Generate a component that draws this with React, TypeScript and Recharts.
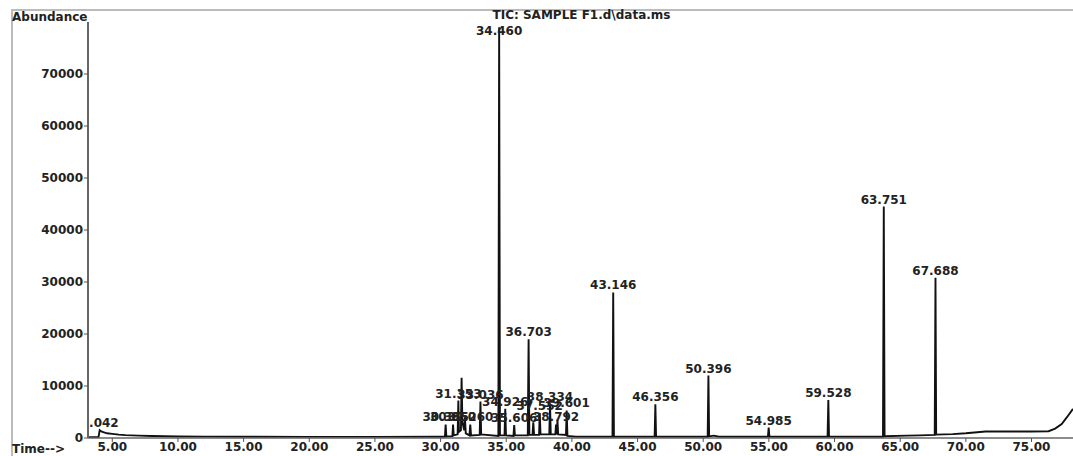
import React from "react";
import { LineChart, Line, XAxis, YAxis, LabelList } from "recharts";

// Retention time (min) of each trace point
const TIMES = [
  3.15, 3.95, 4.042, 4.2, 4.6, 5.0, 5.5, 6.0, 7.0, 8.0, 9.0, 10.0, 12.0, 15.0, 20.0, 25.0, 29.5,
  30.0, 30.33, 30.385, 30.44, 30.9, 30.95, 31.0, 31.3, 31.353, 31.4, 31.55, 31.6, 31.66, 31.8,
  31.85, 31.92, 32.2, 32.26, 32.32, 32.98, 33.036, 33.09, 34.4, 34.46, 34.52, 34.87, 34.926,
  34.98, 35.55, 35.606, 35.66, 36.64, 36.703, 36.76, 37.0, 37.06, 37.12, 37.5, 37.552, 37.61,
  38.28, 38.334, 38.39, 38.74, 38.792, 38.85, 38.9, 38.95, 39.55, 39.601, 39.66, 40.3,
  43.09, 43.146, 43.2, 46.3, 46.356, 46.41, 50.34, 50.396, 50.45, 50.8, 51.2, 54.93, 54.985,
  55.04, 59.47, 59.528, 59.58, 63.69, 63.751, 63.81, 65.5, 66.5, 67.63, 67.688, 67.74, 69.0,
  70.0, 71.5, 73.0, 75.0, 76.3, 76.8, 77.3, 77.7, 78.16,
];

// Abundance at each trace point
const ABUNDANCE = [
  150, 150, 1500, 1200, 900, 800, 650, 550, 450, 380, 330, 300, 260, 230, 220, 220, 230,
  250, 250, 2600, 300, 350, 2600, 500, 700, 7200, 1200, 1500, 11600, 3000, 1500,
  4000, 900, 500, 2600, 500, 600, 7000, 700, 400, 79000, 500, 500, 5600,
  500, 400, 2500, 500, 500, 19000, 600, 600, 3000, 600, 600, 4800, 700,
  700, 6600, 700, 700, 2600, 700, 3500, 700, 600, 5300, 400, 250,
  250, 28000, 250, 250, 6500, 250, 250, 12000, 300, 450, 250, 250, 2000,
  250, 250, 7300, 250, 250, 44500, 350, 450, 500, 600, 30800, 650, 750,
  900, 1250, 1250, 1250, 1300, 1800, 2700, 4000, 5600,
];

// Labelled peaks
const PEAK_TIMES = [
  4.042, 30.385, 30.95, 31.353, 32.26, 33.036, 34.46, 34.926, 35.606, 36.703, 37.552, 38.334,
  38.792, 39.601, 43.146, 46.356, 50.396, 54.985, 59.528, 63.751, 67.688,
];
const PEAK_LABELS = [
  "4.042", "30.385", "30.950", "31.353", "32.260", "33.036", "34.460", "34.926", "35.606",
  "36.703", "37.552", "38.334", "38.792", "39.601", "43.146", "46.356", "50.396", "54.985",
  "59.528", "63.751", "67.688",
];

const X_TICKS = [5, 10, 15, 20, 25, 30, 35, 40, 45, 50, 55, 60, 65, 70, 75];
const X_MINOR = [
  4, 6, 7, 8, 9, 11, 12, 13, 14, 16, 17, 18, 19, 21, 22, 23, 24, 26, 27, 28, 29, 31, 32, 33, 34,
  36, 37, 38, 39, 41, 42, 43, 44, 46, 47, 48, 49, 51, 52, 53, 54, 56, 57, 58, 59, 61, 62, 63, 64,
  66, 67, 68, 69, 71, 72, 73, 74, 76, 77, 78,
];
const Y_TICKS = [0, 10000, 20000, 30000, 40000, 50000, 60000, 70000];

const data = TIMES.map((t, i) => {
  const k = PEAK_TIMES.indexOf(t);
  return { t, a: ABUNDANCE[i], label: k >= 0 ? PEAK_LABELS[k] : undefined };
});

const FONT = "'DejaVu Sans', Arial, sans-serif";
const PLOT_LEFT = 88;

const PeakLabel = (props: any) => {
  const { x, y, value } = props;
  if (!value) return null;
  const by = Math.max(y - 3, 35);
  return (
    <g>
      <defs>
        <clipPath id={`clip-${value}`}>
          <rect x={PLOT_LEFT + 1} y={0} width={2000} height={456} />
        </clipPath>
      </defs>
      <text
        x={x}
        y={by}
        textAnchor="middle"
        fontFamily={FONT}
        fontWeight="bold"
        fontSize={12}
        fill="#222"
        clipPath={`url(#clip-${value})`}
      >
        {value}
      </text>
    </g>
  );
};

export default function App() {
  return (
    <div
      style={{
        position: "absolute",
        left: 0,
        top: 0,
        width: 1073,
        height: 456,
        background: "#fff",
        overflow: "hidden",
      }}
    >
      <div style={{ position: "absolute", left: 12, top: 9, width: 1061, height: 2, background: "#bbb" }} />
      <div style={{ position: "absolute", left: 11, top: 9, width: 2, height: 447, background: "#bbb" }} />
      <LineChart
        width={1073}
        height={456}
        data={data}
        margin={{ top: 22, right: 0, bottom: 0, left: 0 }}
      >
        <XAxis
          xAxisId="minor"
          dataKey="t"
          type="number"
          domain={[3.15, 78.16]}
          allowDataOverflow
          ticks={X_MINOR}
          tick={false}
          tickSize={2}
          height={0}
          axisLine={false}
          tickLine={{ stroke: "#555" }}
        />
        <XAxis
          dataKey="t"
          type="number"
          domain={[3.15, 78.16]}
          allowDataOverflow
          ticks={X_TICKS}
          tickFormatter={(v: number) => v.toFixed(2)}
          tick={{ fontFamily: FONT, fontWeight: "bold", fontSize: 12, fill: "#222" }}
          tickSize={4}
          tickMargin={0}
          height={18}
          interval={0}
          axisLine={{ stroke: "#666", strokeWidth: 1.5 }}
          tickLine={{ stroke: "#555" }}
        />
        <YAxis
          dataKey="a"
          type="number"
          domain={[0, 80000]}
          allowDataOverflow
          ticks={Y_TICKS}
          interval={0}
          width={88}
          tick={{ fontFamily: FONT, fontWeight: "bold", fontSize: 12, fill: "#222" }}
          tickSize={4}
          tickMargin={1}
          axisLine={{ stroke: "#666", strokeWidth: 2 }}
          tickLine={{ stroke: "#555" }}
        />
        <Line
          type="linear"
          dataKey="a"
          stroke="#111"
          strokeWidth={1.9}
          dot={false}
          isAnimationActive={false}
        >
          <LabelList dataKey="label" content={PeakLabel} />
        </Line>
      </LineChart>
      <div
        style={{
          position: "absolute",
          left: 12,
          top: 11,
          fontFamily: FONT,
          fontWeight: "bold",
          fontSize: 12,
          color: "#222",
          lineHeight: "12px",
        }}
      >
        Abundance
      </div>
      <div
        style={{
          position: "absolute",
          left: 0,
          width: 1163,
          textAlign: "center",
          top: 9,
          fontFamily: FONT,
          fontWeight: "bold",
          fontSize: 12,
          color: "#222",
          lineHeight: "12px",
        }}
      >
        TIC: SAMPLE F1.d\data.ms
      </div>
      <div
        style={{
          position: "absolute",
          left: 12,
          top: 443,
          fontFamily: FONT,
          fontWeight: "bold",
          fontSize: 12,
          color: "#222",
          lineHeight: "12px",
        }}
      >
        Time--&gt;
      </div>
    </div>
  );
}
